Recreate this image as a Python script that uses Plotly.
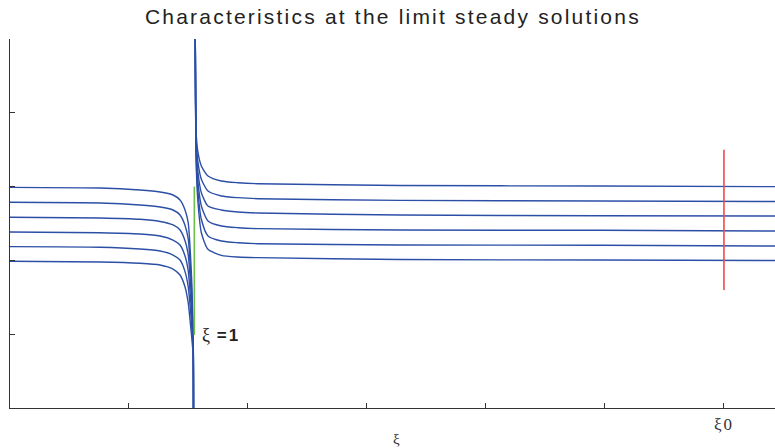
import plotly.graph_objects as go

# ---- data (axis units: x tick spacing = 1, y tick spacing = 1) ----
XI_ONE = 1.542          # position of xi = 1
XI_ZERO = 6.0           # position of xi0
GREEN_Y = [3.0, 0.99]
RED_Y = [3.5, 1.6]

# left branches (xi < 1), common x samples
left_x = [0, 0.756, 1.092, 1.261, 1.370, 1.429, 1.471, 1.498, 1.513, 1.527, 1.535, 1.540, 1.542]
left_curves = [
    [2.990, 2.981, 2.954, 2.927, 2.886, 2.818, 2.683, 2.507, 2.182, 1.734, 1.287, 1.016, 0],
    [2.787, 2.778, 2.751, 2.724, 2.683, 2.615, 2.474, 2.290, 1.984, 1.585, 1.192, 0.949, 0],
    [2.584, 2.575, 2.557, 2.527, 2.480, 2.412, 2.266, 2.073, 1.789, 1.436, 1.098, 0.894, 0],
    [2.385, 2.375, 2.358, 2.331, 2.276, 2.209, 2.060, 1.856, 1.585, 1.274, 1.003, 0.840, 0],
    [2.186, 2.178, 2.154, 2.127, 2.073, 2.005, 1.848, 1.640, 1.396, 1.125, 0.908, 0.786, 0],
    [1.988, 1.978, 1.961, 1.938, 1.883, 1.802, 1.640, 1.423, 1.192, 0.962, 0.813, 0.718, 0],
]

# right branches (xi > 1), common x samples
right_x = [1.557, 1.560, 1.566, 1.580, 1.608, 1.664, 1.776, 1.916, 2.084, 3.277, 4.958, 6.429]
right_curves = [
    [5.0, 4.173, 3.686, 3.459, 3.279, 3.144, 3.076, 3.053, 3.039, 3.015, 3.008, 2.999],
    [5.0, 4.133, 3.595, 3.324, 3.099, 2.940, 2.873, 2.850, 2.836, 2.814, 2.805, 2.798],
    [5.0, 4.092, 3.505, 3.188, 2.917, 2.737, 2.683, 2.656, 2.642, 2.615, 2.606, 2.602],
    [5.0, 4.051, 3.415, 3.053, 2.737, 2.534, 2.466, 2.443, 2.430, 2.412, 2.408, 2.398],
    [5.0, 4.011, 3.324, 2.917, 2.557, 2.331, 2.263, 2.240, 2.226, 2.209, 2.205, 2.195],
    [5.0, 3.970, 3.234, 2.782, 2.375, 2.150, 2.069, 2.046, 2.037, 2.012, 2.005, 1.999],
]

x_tickvals = [1, 2, 3, 4, 5, 6]
x_ticktext = ["", "", "", "", "", "<span style='letter-spacing:2px'>ξ0</span>"]
y_tickvals = [1, 2, 3, 4, 5]

BLUE = "#2C4FA6"
GREEN = "#6CC04A"
RED = "#EE4A52"

fig = go.Figure()

for ys in left_curves:
    fig.add_trace(go.Scatter(x=left_x, y=ys, mode="lines",
                             line=dict(color=BLUE, width=1.4, shape="spline", smoothing=0.6),
                             hoverinfo="skip", showlegend=False))
for ys in right_curves:
    fig.add_trace(go.Scatter(x=right_x, y=ys, mode="lines",
                             line=dict(color=BLUE, width=1.4, shape="spline", smoothing=0.6),
                             hoverinfo="skip", showlegend=False))

fig.add_trace(go.Scatter(x=[XI_ONE + 0.007, XI_ONE + 0.007], y=GREEN_Y, mode="lines",
                         line=dict(color=GREEN, width=1.6), showlegend=False, hoverinfo="skip"))
fig.add_trace(go.Scatter(x=[XI_ZERO, XI_ZERO], y=RED_Y, mode="lines",
                         line=dict(color=RED, width=1.6), showlegend=False, hoverinfo="skip"))

fig.add_annotation(x=XI_ONE + 0.058, y=GREEN_Y[1], xref="x", yref="y",
                   text="<span style='font-family:Liberation Serif;font-size:18px'>ξ</span>"
                        "<span style='letter-spacing:2px'> <b>=1</b></span>",
                   showarrow=False, xanchor="left", yanchor="middle",
                   font=dict(family="Liberation Sans", size=17, color="#222"))

fig.add_annotation(x=(397 - 10) / 119, y=0.0, xref="x", yref="y",
                   text="ξ", showarrow=False, yshift=-31, yanchor="middle",
                   font=dict(family="Liberation Serif", size=15, color="#333"))

fig.update_layout(
    width=775, height=448,
    margin=dict(l=10, r=0, t=39, b=40),
    paper_bgcolor="white", plot_bgcolor="white",
    title=dict(text="<span style='letter-spacing:2.2px'>Characteristics at the limit steady solutions</span>",
               x=0.507, xanchor="center", y=0.962, yanchor="middle",
               font=dict(family="Liberation Sans", size=21, color="#222")),
    xaxis=dict(range=[0, 6.429], showgrid=False, zeroline=False,
               showline=True, linecolor="#333", linewidth=1.3,
               ticks="inside", ticklen=5, tickwidth=1.2, tickcolor="#333",
               tickvals=x_tickvals, ticktext=x_ticktext,
               tickfont=dict(family="Liberation Serif", size=17, color="#333")),
    yaxis=dict(range=[0, 5], showgrid=False, zeroline=False,
               showline=True, linecolor="#333", linewidth=1.3,
               ticks="inside", ticklen=5, tickwidth=1.2, tickcolor="#333",
               tickvals=y_tickvals, showticklabels=False),
)

fig.write_html("out.html", config={"displayModeBar": False},
               post_script="document.body.style.margin='0px';")
